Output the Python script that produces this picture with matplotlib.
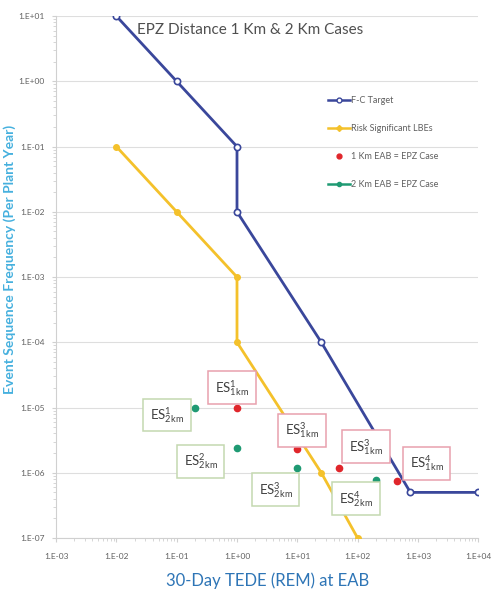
import numpy as np
import matplotlib
matplotlib.use('Agg')
import matplotlib.pyplot as plt
from matplotlib.lines import Line2D
from matplotlib.ticker import FuncFormatter, LogLocator, FixedLocator

plt.rcParams['font.family'] = ['Lato', 'DejaVu Sans']
plt.rcParams['mathtext.fontset'] = 'custom'
plt.rcParams['mathtext.rm'] = 'Lato'
plt.rcParams['mathtext.it'] = 'Lato'

# F-C target curve
fc_dose = [1e-2, 1e-1, 1.0, 1.0, 25.0, 750.0, 1e4]
fc_freq = [10.0, 1.0, 1e-1, 1e-2, 1e-4, 5e-7, 5e-7]

# risk significant LBE curve
lbe_dose = [1e-2, 1e-1, 1.0, 1.0, 25.0, 100.0]
lbe_freq = [1e-1, 1e-2, 1e-3, 1e-4, 1e-6, 1e-7]

# event sequences, EPZ at 1 km
es1km_dose = [1.0, 10.0, 49.0, 450.0]
es1km_freq = [1e-5, 2.3e-6, 1.2e-6, 7.5e-7]
es1km_names = [r'ES$^{1}_{\mathrm{1km}}$', r'ES$^{3}_{\mathrm{1km}}$',
               r'ES$^{3}_{\mathrm{1km}}$', r'ES$^{4}_{\mathrm{1km}}$']

# event sequences, EPZ at 2 km
es2km_dose = [0.2, 1.0, 10.0, 200.0]
es2km_freq = [1e-5, 2.4e-6, 1.2e-6, 7.8e-7]
es2km_names = [r'ES$^{1}_{\mathrm{2km}}$', r'ES$^{2}_{\mathrm{2km}}$',
               r'ES$^{3}_{\mathrm{2km}}$', r'ES$^{4}_{\mathrm{2km}}$']

# axis decades
x_ticks = [1e-3, 1e-2, 1e-1, 1e0, 1e1, 1e2, 1e3, 1e4]
y_ticks = [1e-7, 1e-6, 1e-5, 1e-4, 1e-3, 1e-2, 1e-1, 1e0, 1e1]

# callout box centres (data coords)
lbl1km_pos = [(0.83, 2.0e-5), (12.0, 4.5e-6), (138.0, 2.5e-6), (1400.0, 1.4e-6)]
lbl2km_pos = [(0.069, 7.7e-6), (0.25, 1.5e-6), (4.4, 5.5e-7), (94.0, 4.0e-7)]

NAVY = '#3a479b'
GOLD = '#f4c12b'
RED = '#e0262b'
TEAL = '#1f9a73'


def sci_label(v, pos):
    return f"1.E{int(round(np.log10(v))):+03d}"


def minor_positions(decades):
    # 2..9 within each decade, inside the axis range
    return [d * k for d in decades[:-1] for k in range(2, 10)]


fig = plt.figure(figsize=(4.92, 5.91), dpi=100)
ax = fig.add_axes([0.114, 0.0897, 0.858, 0.883])
ax.set_xscale('log')
ax.set_yscale('log')
ax.set_xlim(x_ticks[0], x_ticks[-1])
ax.set_ylim(y_ticks[0], y_ticks[-1])

ax.yaxis.grid(True, which='major', color='#dedede', lw=0.8)
ax.set_axisbelow(True)
for side in ['top', 'right']:
    ax.spines[side].set_visible(False)
for side in ['left', 'bottom']:
    ax.spines[side].set_color('#d0d0d0')
    ax.spines[side].set_linewidth(0.8)

ax.set_xticks(x_ticks)
ax.set_yticks(y_ticks)
ax.xaxis.set_minor_locator(FixedLocator(minor_positions(x_ticks)))
ax.yaxis.set_minor_locator(FixedLocator(minor_positions(y_ticks)))
ax.xaxis.set_major_formatter(FuncFormatter(sci_label))
ax.yaxis.set_major_formatter(FuncFormatter(sci_label))
ax.tick_params(which='major', length=3, color='#d0d0d0', labelsize=6, labelcolor='#606060', pad=5)
ax.tick_params(axis='x', which='major', pad=8)
ax.tick_params(which='minor', length=2, color='#d0d0d0', labelbottom=False, labelleft=False)

ax.plot(fc_dose, fc_freq, color=NAVY, lw=2, marker='o', ms=4.5,
        mfc='white', mec=NAVY, mew=1.2, zorder=3)
ax.plot(lbe_dose, lbe_freq, color=GOLD, lw=2, marker='o', ms=4,
        mfc=GOLD, mec=GOLD, zorder=3)
ax.plot(es1km_dose, es1km_freq, ls='none', marker='o', ms=4.5, color=RED, zorder=4)
ax.plot(es2km_dose, es2km_freq, ls='none', marker='o', ms=4.5, color=TEAL, zorder=4)

for name, (x, y) in zip(es1km_names, lbl1km_pos):
    ax.text(x, y, name, ha='center', va='center', fontsize=9.5, color='#404040', zorder=5,
            bbox=dict(boxstyle='square,pad=0.5', fc='white', ec='#e8a0ad', lw=1.1))
for name, (x, y) in zip(es2km_names, lbl2km_pos):
    ax.text(x, y, name, ha='center', va='center', fontsize=9.5, color='#404040', zorder=5,
            bbox=dict(boxstyle='square,pad=0.5', fc='white', ec='#c4d8b0', lw=1.1))

handles = [
    Line2D([], [], color=NAVY, lw=1.8, marker='o', ms=3.5, mfc='white', mec=NAVY),
    Line2D([], [], color=GOLD, lw=1.8, marker='D', ms=3, mfc=GOLD, mec=GOLD),
    Line2D([], [], ls='none', marker='o', ms=3.5, color=RED),
    Line2D([], [], color=TEAL, lw=1.8, marker='o', ms=3, mfc=TEAL, mec=TEAL),
]
labels = ['F-C Target', 'Risk Significant LBEs', '1 Km EAB = EPZ Case', '2 Km EAB = EPZ Case']
leg = ax.legend(handles, labels, loc='upper left', bbox_to_anchor=(0.625, 0.862),
                frameon=False, fontsize=6.5, handlelength=2.4, handletextpad=0.1,
                labelspacing=2.1, labelcolor='#606060')

fig.text(0.509, 0.949, 'EPZ Distance 1 Km & 2 Km Cases', ha='center', va='center',
         fontsize=11, color='#505050')

ax.set_xlabel('30-Day TEDE (REM) at EAB', fontsize=12, color='#2e75b6', labelpad=9)
ax.set_ylabel('Event Sequence Frequency (Per Plant Year)', fontsize=10,
              color='#45b0de', fontweight='bold', labelpad=2)
ax.yaxis.set_label_coords(-0.095, 0.533)

fig.savefig('out.png', dpi=100)
